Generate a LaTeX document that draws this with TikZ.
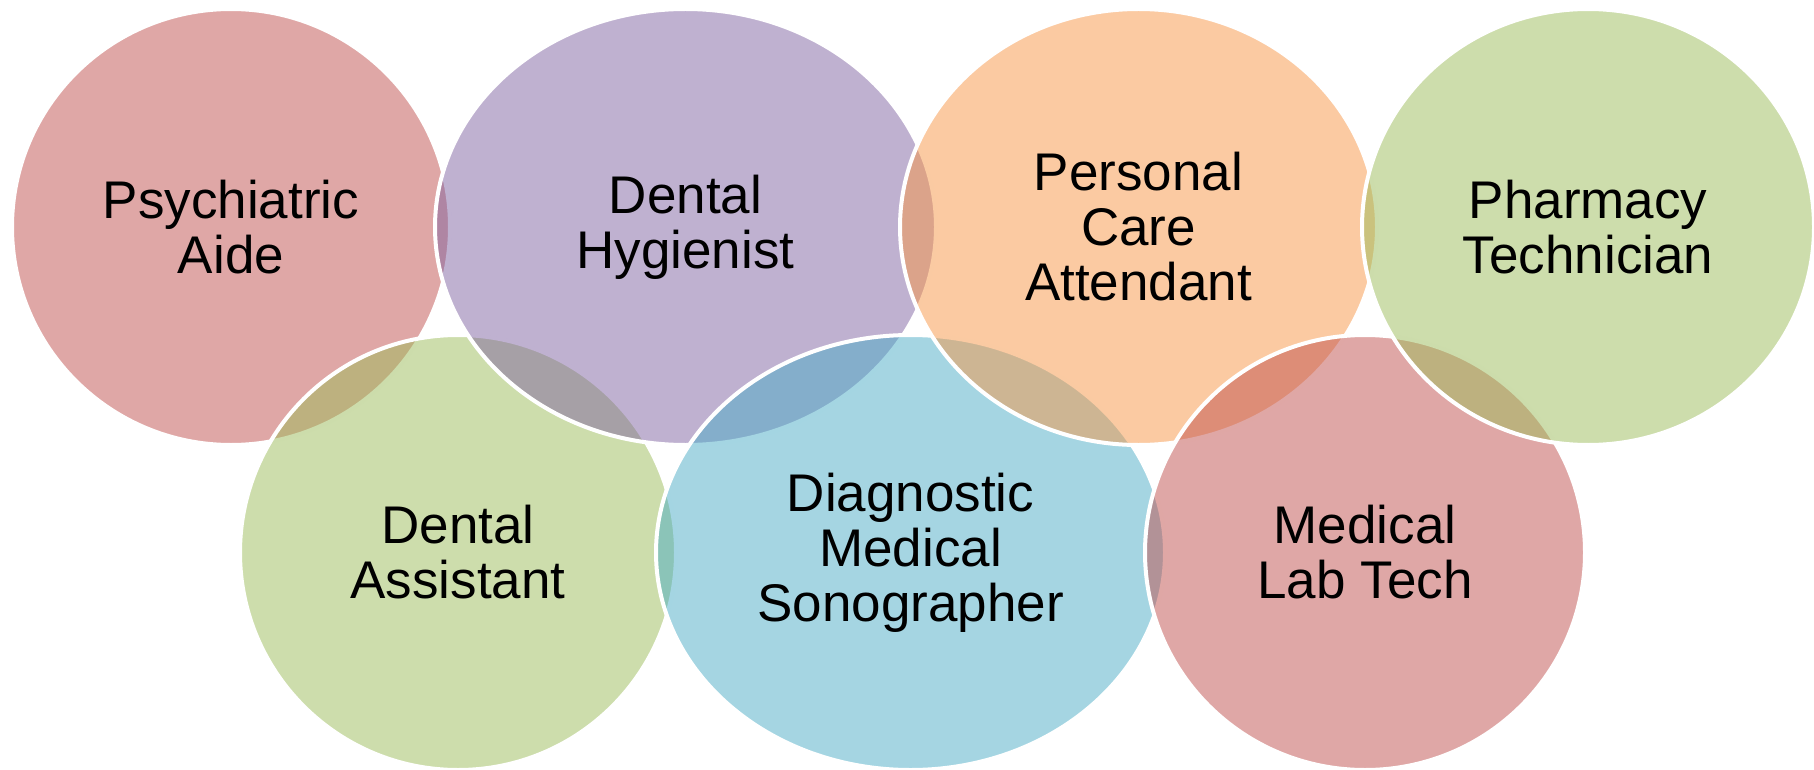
\documentclass[tikz,border=0pt]{standalone}
\usepackage{fontspec}
\setmainfont{Liberation Sans}
\usetikzlibrary{shapes.geometric}
\definecolor{accred}{RGB}{192,80,77}
\definecolor{accpurple}{RGB}{128,100,162}
\definecolor{accorange}{RGB}{247,150,70}
\definecolor{accgreen}{RGB}{155,187,89}
\definecolor{accblue}{RGB}{75,172,198}
\begin{document}
\begin{tikzpicture}[x=1pt,y=-1pt,
  ring/.style={ellipse, draw=white, line width=4pt, fill opacity=0.5, text opacity=1,
    draw opacity=1, inner sep=0pt, align=center, text=black,
    font=\fontsize{53}{55}\selectfont}]
\useasboundingbox (0,0) rectangle (1814,770);
\node[ring, fill=accred, minimum width=438pt, minimum height=436pt] (psy) at (231,227) {Psychiatric\\Aide};
\node[ring, fill=accgreen, minimum width=436pt, minimum height=435pt] (dass) at (458,552.5) {Dental\\Assistant};
\node[ring, fill=accpurple, minimum width=501pt, minimum height=436pt] (dhyg) at (685.5,227) {Dental\\Hygienist};
\node[ring, fill=accblue, minimum width=509pt, minimum height=435pt] (dms) at (910.5,552.5) {Diagnostic\\Medical\\Sonographer};
\node[ring, fill=accorange, minimum width=477pt, minimum height=436pt] (pca) at (1138.5,227) {Personal\\Care\\Attendant};
\node[ring, fill=accred, minimum width=440pt, minimum height=435pt] (mlt) at (1365,552.5) {Medical\\Lab Tech};
\node[ring, fill=accgreen, minimum width=452pt, minimum height=436pt] (pht) at (1588,227) {Pharmacy\\Technician};
\end{tikzpicture}
\end{document}
